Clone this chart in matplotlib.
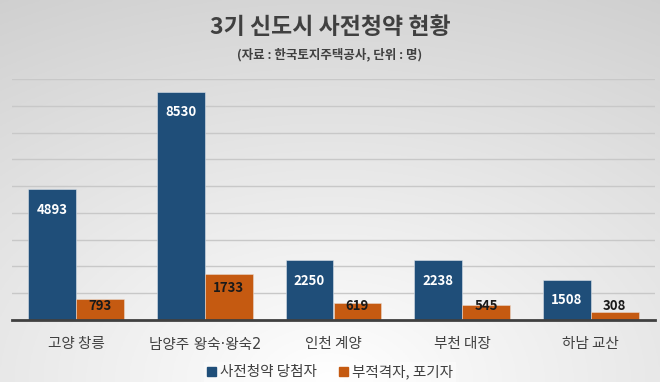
import numpy as np
import matplotlib
matplotlib.use("Agg")
import matplotlib.pyplot as plt
from matplotlib.patches import Patch

plt.rcParams['font.family'] = ['Noto Sans CJK KR', 'DejaVu Sans']

categories = ["고양 창릉", "남양주 왕숙·왕숙2", "인천 계양", "부천 대장", "하남 교산"]
winners = [4893, 8530, 2250, 2238, 1508]
dropped = [793, 1733, 619, 545, 308]
series_names = ["사전청약 당첨자", "부적격자, 포기자"]
title = "3기 신도시 사전청약 현황"
subtitle = "(자료 : 한국토지주택공사, 단위 : 명)"

blue = "#1F4E79"
orange = "#C55A11"

W, H = 660, 382
fig = plt.figure(figsize=(W / 100, H / 100), dpi=100)

# background gradient
bg = fig.add_axes([0, 0, 1, 1], zorder=-10)
yy, xx = np.mgrid[0:1:200j, 0:1:300j]
d = np.sqrt(((xx - 0.5) / 1.0) ** 2 + ((1 - yy) * 0.9) ** 2)
val = np.clip(1.0 - 0.18 * d, 0, 1)
bg.imshow(np.dstack([val, val, val]), extent=[0, 1, 0, 1], origin='upper', aspect='auto')
bg.axis('off')

left, right = 12 / W, 655 / W
bottom, top = (H - 320) / H, (H - 79) / H
ax = fig.add_axes([left, bottom, right - left, top - bottom])
ax.patch.set_alpha(0)

x = np.arange(len(categories))
bw = 0.373
ax.bar(x - bw / 2, winners, bw, color=blue, edgecolor='#DDE3EA', linewidth=0.4, zorder=3)
ax.bar(x + bw / 2, dropped, bw, color=orange, edgecolor='#E8D8CC', linewidth=0.4, zorder=3)

ax.set_xlim(-0.5, len(categories) - 0.5)
ax.set_ylim(0, 9000)
ax.set_yticks(np.arange(0, 9001, 1000))
ax.yaxis.grid(True, color='#C8C8C8', linewidth=1.0, zorder=0)
ax.set_axisbelow(True)
ax.tick_params(axis='y', length=0, labelleft=False)
ax.tick_params(axis='x', length=0, labelsize=10.5, colors='#404040', pad=12)
ax.set_xticks(x)
ax.set_xticklabels(categories)
for lbl in ax.get_xticklabels():
    if '·' in lbl.get_text():
        lbl.set_family(['DejaVu Sans', 'Noto Sans CJK KR'])
for s in ['top', 'right', 'left']:
    ax.spines[s].set_visible(False)
ax.spines['bottom'].set_color('#404040')
ax.spines['bottom'].set_linewidth(2)
ax.spines['bottom'].set_zorder(5)

for xi, v in zip(x, winners):
    ax.annotate(str(v), (xi - bw / 2, max(v, 1050)), xytext=(0, -15), textcoords='offset points',
                ha='center', va='center', color='white', fontsize=9.5, fontweight='bold', zorder=6)
for xi, v in zip(x, dropped):
    ax.annotate(str(v), (xi + bw / 2, max(v, 1050)), xytext=(0, -10.5), textcoords='offset points',
                ha='center', va='center', color='#1a1a1a', fontsize=9.5, fontweight='bold', zorder=6)

fig.text(0.5, 1 - 27 / H, title, ha='center', va='center', fontsize=16.5, fontweight='bold', color='#404040')
fig.text(0.5, 1 - 55 / H, subtitle, ha='center', va='center', fontsize=9, fontweight='bold', color='#404040')

handles = [Patch(color=blue), Patch(color=orange)]
leg = fig.legend(handles, series_names, loc='center', bbox_to_anchor=(0.5, 1 - 372 / H), ncol=2,
                 frameon=True, fontsize=10.5, handlelength=0.6, handleheight=0.6, handletextpad=0.3,
                 columnspacing=1.5, borderpad=0.2, labelcolor='#404040')
leg.get_frame().set_facecolor('white')
leg.get_frame().set_alpha(0.35)
leg.get_frame().set_edgecolor('none')
leg.get_frame().set_boxstyle('square', pad=0)

fig.savefig("out.png", dpi=100)
